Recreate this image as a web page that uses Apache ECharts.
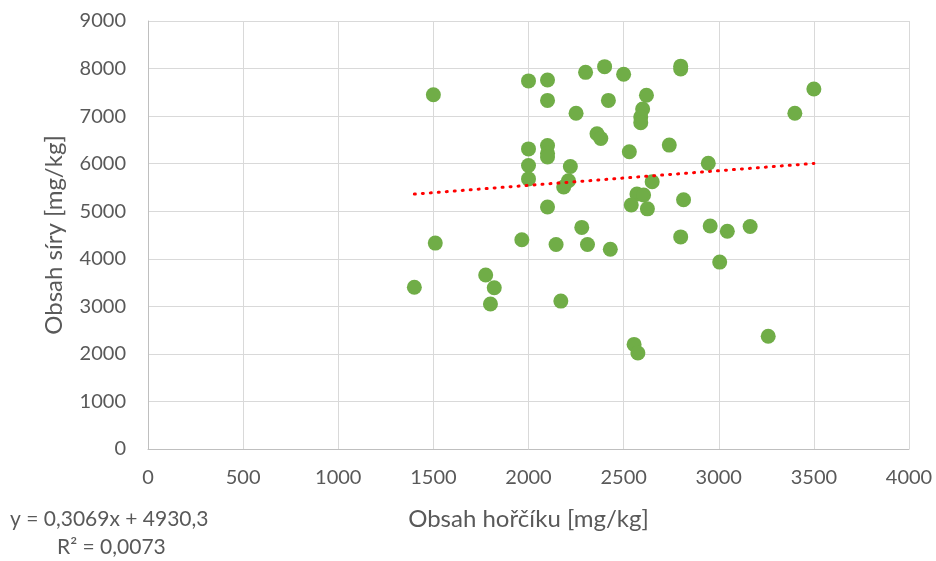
<!DOCTYPE html>
<html><head><meta charset="utf-8">
<script src="https://cdn.jsdelivr.net/npm/echarts@6/dist/echarts.min.js"></script>
<style>html,body{margin:0;padding:0;background:#fff}#c{width:936px;height:561px}</style>
</head><body><div id="c"></div>
<script>
const magnesium = [1500,1510,1400,1775,1820,1800,1965,2000,2100,2100,2000,2000,2000,2100,2100,2100,2100,2220,2210,2185,2145,2170,2300,2400,2500,2250,2420,2360,2380,2280,2310,2430,2530,2620,2600,2590,2590,2740,2800,2800,2570,2605,2540,2625,2650,2945,2815,2800,2955,3045,3165,3005,3260,3500,3400,2555,2575];
const sulfur    = [7450,4330,3400,3660,3390,3050,4400,7740,7760,7330,6310,5960,5680,6380,6220,6140,5090,5940,5640,5510,4300,3110,7920,8040,7880,7060,7330,6630,6530,4660,4300,4200,6250,7440,7150,6980,6860,6390,8050,7990,5360,5340,5130,5050,5620,6010,5240,4460,4690,4580,4680,3930,2370,7570,7060,2200,2020];
const trendX = [1400, 3500];
const trendY = [5360, 6005];
const xTicks = {min: 0, max: 4000, interval: 500};
const yTicks = {min: 0, max: 9000, interval: 1000};
const xTitle = 'Obsah hořčíku [mg/kg]';
const yTitle = 'Obsah síry [mg/kg]';
const eqLines = ['y = 0,3069x + 4930,3', 'R² = 0,0073'];

const chart = echarts.init(document.getElementById('c'), null, {renderer: 'canvas'});
const font = 'Lato';
const txt = '#595959';
const plain = v => String(v);
chart.setOption({
  animation: false,
  backgroundColor: '#fff',
  grid: {left: 148, right: 27, top: 21, bottom: 112},
  xAxis: {
    type: 'value', min: xTicks.min, max: xTicks.max, interval: xTicks.interval,
    name: xTitle, nameLocation: 'middle', nameGap: 58,
    nameTextStyle: {fontFamily: font, fontSize: 24, color: txt},
    axisLine: {show: true, lineStyle: {color: '#bfbfbf', width: 1}},
    axisTick: {show: false},
    axisLabel: {fontFamily: font, fontSize: 20, color: txt, margin: 19, formatter: plain},
    splitLine: {show: true, lineStyle: {color: '#d9d9d9', width: 1}}
  },
  yAxis: {
    type: 'value', min: yTicks.min, max: yTicks.max, interval: yTicks.interval,
    name: yTitle, nameLocation: 'middle', nameGap: 82, nameRotate: 90,
    nameTextStyle: {fontFamily: font, fontSize: 24, color: txt},
    axisLine: {show: true, lineStyle: {color: '#bfbfbf', width: 1}},
    axisTick: {show: false},
    axisLabel: {fontFamily: font, fontSize: 20, color: txt, margin: 22, formatter: plain},
    splitLine: {show: true, lineStyle: {color: '#d9d9d9', width: 1}}
  },
  series: [
    {
      type: 'scatter', symbol: 'circle', symbolSize: 15,
      itemStyle: {color: '#70ad47', opacity: 1},
      data: magnesium.map((m, i) => [m, sulfur[i]]), z: 3
    },
    {
      type: 'line', symbol: 'none', silent: true,
      lineStyle: {color: '#ff0000', width: 3, type: [1, 7], cap: 'round'},
      data: trendX.map((x, i) => [x, trendY[i]]), z: 4
    }
  ],
  graphic: [
    {type: 'text', left: 10, top: 509, style: {text: eqLines[0], font: '21px ' + font, fill: txt}},
    {type: 'text', left: 57, top: 537, style: {text: eqLines[1], font: '21px ' + font, fill: txt}}
  ]
});
</script></body></html>
